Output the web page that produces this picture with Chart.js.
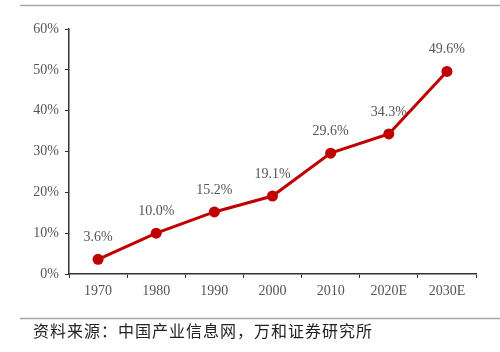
<!DOCTYPE html>
<html>
<head>
<meta charset="utf-8">
<script src="https://cdn.jsdelivr.net/npm/chart.js@4/dist/chart.umd.min.js"></script>
<style>
  html, body { margin: 0; padding: 0; background: #fff; }
  #wrap { width: 500px; height: 352px; position: relative; }
</style>
</head>
<body>
<div id="wrap"><canvas id="penetrationChart" width="500" height="352"></canvas></div>
<script>
const years = ['1970', '1980', '1990', '2000', '2010', '2020E', '2030E'];
const shareValues = [3.6, 10.0, 15.2, 19.1, 29.6, 34.3, 49.6];
const yTicks = [0, 10, 20, 30, 40, 50, 60];
const sourceNote = '资料来源：中国产业信息网，万和证券研究所';

const textGrey = '#555555';
const lineRed = '#C00000';

// labels above points + frame lines and source note
const decorPlugin = {
    id: 'decor',
    afterDatasetsDraw(chart) {
        const ctx = chart.ctx;
        const meta = chart.getDatasetMeta(0);
        ctx.save();
        ctx.font = '14px "Liberation Serif", serif';
        ctx.fillStyle = textGrey;
        ctx.textAlign = 'center';
        ctx.textBaseline = 'middle';
        meta.data.forEach(function(pt, i) {
            ctx.fillText(shareValues[i].toFixed(1) + '%', pt.x, pt.y - 22);
        });
        ctx.restore();
    },
    afterDraw(chart) {
        const ctx = chart.ctx;
        ctx.save();
        ctx.strokeStyle = '#a6a6a6';
        ctx.lineWidth = 1.5;
        ctx.beginPath();
        ctx.moveTo(20, 5.5); ctx.lineTo(500, 5.5);
        ctx.moveTo(20, 318.5); ctx.lineTo(500, 318.5);
        ctx.stroke();
        ctx.fillStyle = '#222';
        ctx.font = '16px "Noto Sans CJK SC", sans-serif';
        ctx.textBaseline = 'middle';
        ctx.textAlign = 'left';
        if ('letterSpacing' in ctx) ctx.letterSpacing = '1px';
        ctx.fillText(sourceNote, 33, 331);
        ctx.restore();
    }
};

document.addEventListener('DOMContentLoaded', function() {
    const ctx = document.getElementById('penetrationChart').getContext('2d');

    new Chart(ctx, {
        type: 'line',
        data: {
            labels: years,
            datasets: [{
                data: shareValues,
                borderColor: lineRed,
                backgroundColor: lineRed,
                borderWidth: 3,
                pointRadius: 5.5,
                pointHoverRadius: 5.5,
                pointBorderWidth: 0,
                pointBackgroundColor: lineRed,
                pointBorderColor: lineRed,
                tension: 0
            }]
        },
        options: {
            responsive: false,
            animation: false,
            devicePixelRatio: 1,
            layout: { padding: { top: 29, right: 24, bottom: 0, left: 0 } },
            plugins: {
                legend: { display: false },
                tooltip: { enabled: false }
            },
            scales: {
                x: {
                    offset: true,
                    afterFit: function(s) { s.height = 78; },
                    grid: {
                        offset: true,
                        drawOnChartArea: false,
                        drawTicks: true,
                        tickLength: 4,
                        color: '#333'
                    },
                    border: { color: '#333', width: 1.5 },
                    ticks: {
                        color: textGrey,
                        padding: 5,
                        font: { family: '"Liberation Serif", serif', size: 14 }
                    }
                },
                y: {
                    min: 0,
                    max: 60,
                    afterFit: function(s) { s.width = 69; },
                    afterBuildTicks: function(s) {
                        s.ticks = yTicks.map(function(v) { return { value: v }; });
                    },
                    grid: {
                        drawOnChartArea: false,
                        drawTicks: true,
                        tickLength: 4,
                        color: '#333'
                    },
                    border: { color: '#333', width: 1.5 },
                    ticks: {
                        color: textGrey,
                        padding: 6,
                        font: { family: '"Liberation Serif", serif', size: 14 },
                        callback: function(v) { return v + '%'; }
                    }
                }
            }
        },
        plugins: [decorPlugin]
    });
});
</script>
</body>
</html>
